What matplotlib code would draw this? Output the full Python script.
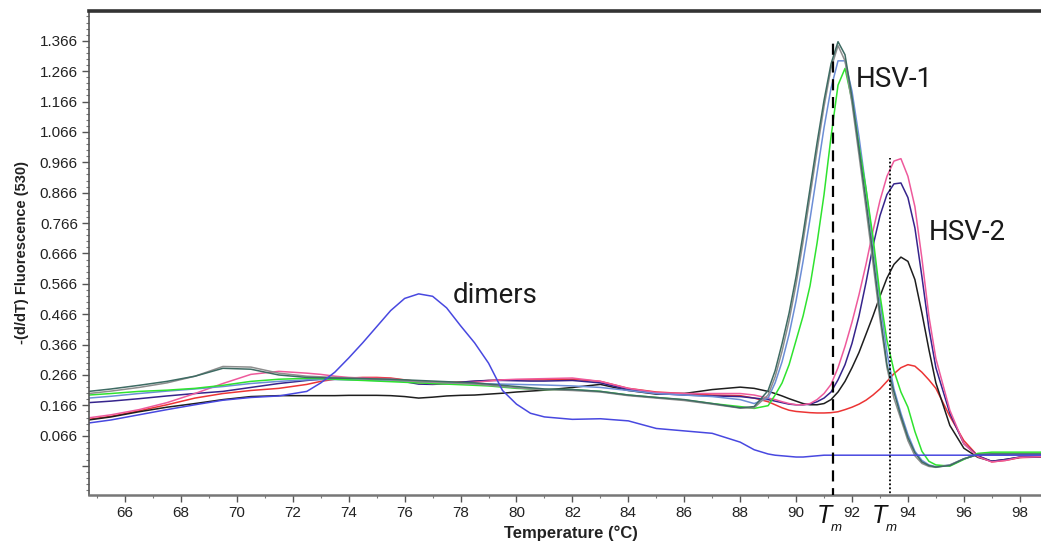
import matplotlib
matplotlib.use("Agg")
import matplotlib.pyplot as plt
from matplotlib.ticker import FixedLocator, MultipleLocator

# ---------------- data ----------------
temps = [64.7, 65.5, 66.5, 67.5, 68.5, 69.5, 70.5, 71.5,
         72.5, 73, 73.5, 74, 74.5, 75, 75.5, 76, 76.5, 77, 77.5, 78, 78.5, 79, 79.5, 80, 80.5, 81,
         82, 83, 84, 85, 86, 87, 88, 88.5,
         89, 89.25, 89.5, 89.75, 90, 90.25, 90.5, 90.75, 91, 91.25, 91.5, 91.75,
         92, 92.25, 92.5, 92.75, 93, 93.25, 93.5, 93.75, 94, 94.25, 94.5, 94.75,
         95, 95.5, 96, 96.5, 97, 97.5, 98, 98.75]

dimer_blue = [0.108, 0.118, 0.135, 0.152, 0.168, 0.183, 0.192, 0.197,
              0.212, 0.240, 0.275, 0.322, 0.372, 0.425, 0.478, 0.518, 0.533, 0.525, 0.487, 0.428, 0.372, 0.305, 0.215, 0.170, 0.140, 0.128,
              0.120, 0.122, 0.115, 0.090, 0.082, 0.074, 0.045, 0.020,
              0.006, 0.002, 0.000, -0.002, -0.004, -0.004, -0.002, 0.000, 0.002, 0.002, 0.002, 0.002,
              0.002, 0.002, 0.002, 0.002, 0.002, 0.002, 0.002, 0.002, 0.002, 0.002, 0.002, 0.002,
              0.002, 0.002, 0.002, 0.002, 0.002, 0.002, 0.002, 0.002]

hsv1_teal = [0.212, 0.220, 0.232, 0.245, 0.262, 0.288, 0.285, 0.266,
             0.258, 0.257, 0.256, 0.255, 0.254, 0.253, 0.252, 0.250, 0.248, 0.246, 0.244, 0.242, 0.240, 0.236, 0.232, 0.228, 0.224, 0.220,
             0.218, 0.212, 0.200, 0.192, 0.185, 0.172, 0.158, 0.162,
             0.215, 0.280, 0.370, 0.470, 0.590, 0.730, 0.880, 1.030, 1.170, 1.290, 1.363, 1.320,
             1.180, 1.010, 0.840, 0.660, 0.470, 0.300, 0.210, 0.130, 0.060, 0.010, -0.020, -0.032,
             -0.037, -0.032, -0.010, 0.004, 0.006, 0.006, 0.006, 0.006]

hsv1_gray = [0.205, 0.213, 0.225, 0.240, 0.262, 0.294, 0.292, 0.272,
             0.262, 0.260, 0.258, 0.256, 0.254, 0.252, 0.250, 0.247, 0.244, 0.242, 0.240, 0.238, 0.236, 0.232, 0.228, 0.224, 0.220, 0.218,
             0.215, 0.210, 0.198, 0.190, 0.182, 0.170, 0.157, 0.158,
             0.200, 0.260, 0.345, 0.445, 0.565, 0.705, 0.855, 1.005, 1.150, 1.275, 1.350, 1.300,
             1.160, 0.990, 0.815, 0.635, 0.450, 0.290, 0.190, 0.120, 0.050, 0.000, -0.025, -0.035,
             -0.038, -0.030, -0.010, 0.004, 0.005, 0.005, 0.005, 0.005]

hsv1_lightblue = [0.190, 0.196, 0.205, 0.213, 0.220, 0.228, 0.238, 0.245,
                  0.250, 0.251, 0.251, 0.250, 0.249, 0.248, 0.247, 0.245, 0.243, 0.241, 0.240, 0.239, 0.238, 0.237, 0.236, 0.235, 0.234, 0.233,
                  0.230, 0.225, 0.215, 0.205, 0.200, 0.195, 0.185, 0.172,
                  0.190, 0.240, 0.310, 0.400, 0.510, 0.640, 0.780, 0.930, 1.080, 1.210, 1.300, 1.300,
                  1.200, 1.050, 0.880, 0.700, 0.510, 0.340, 0.220, 0.140, 0.070, 0.015, -0.015, -0.030,
                  -0.036, -0.030, -0.010, 0.004, 0.005, 0.005, 0.005, 0.005]

hsv1_green = [0.200, 0.205, 0.212, 0.216, 0.222, 0.232, 0.245, 0.252,
              0.255, 0.254, 0.252, 0.250, 0.248, 0.246, 0.244, 0.242, 0.240, 0.238, 0.236, 0.234, 0.232, 0.230, 0.226, 0.222, 0.220, 0.218,
              0.218, 0.212, 0.200, 0.192, 0.184, 0.172, 0.162, 0.156,
              0.165, 0.200, 0.240, 0.300, 0.380, 0.460, 0.560, 0.700, 0.860, 1.050, 1.220, 1.275,
              1.170, 1.020, 0.880, 0.720, 0.530, 0.380, 0.280, 0.210, 0.160, 0.080, 0.015, -0.018,
              -0.030, -0.034, -0.012, 0.008, 0.012, 0.012, 0.012, 0.012]

hsv2_pink = [0.125, 0.135, 0.152, 0.175, 0.205, 0.238, 0.268, 0.278,
             0.272, 0.268, 0.262, 0.258, 0.256, 0.255, 0.254, 0.248, 0.240, 0.238, 0.238, 0.239, 0.242, 0.246, 0.250, 0.252, 0.253, 0.254,
             0.256, 0.245, 0.222, 0.208, 0.205, 0.205, 0.205, 0.200,
             0.190, 0.185, 0.178, 0.172, 0.168, 0.168, 0.172, 0.185, 0.205, 0.235, 0.290, 0.360,
             0.440, 0.530, 0.630, 0.740, 0.840, 0.920, 0.970, 0.978, 0.920, 0.820, 0.650, 0.460,
             0.320, 0.150, 0.040, -0.003, -0.020, -0.015, -0.005, -0.003]

hsv2_navy = [0.175, 0.180, 0.188, 0.197, 0.205, 0.212, 0.225, 0.238,
             0.248, 0.252, 0.255, 0.256, 0.255, 0.253, 0.250, 0.244, 0.236, 0.235, 0.237, 0.242, 0.246, 0.248, 0.248, 0.247, 0.246, 0.246,
             0.248, 0.240, 0.218, 0.205, 0.200, 0.197, 0.195, 0.190,
             0.185, 0.180, 0.175, 0.170, 0.168, 0.168, 0.170, 0.178, 0.190, 0.210, 0.250, 0.300,
             0.370, 0.460, 0.570, 0.690, 0.790, 0.860, 0.895, 0.898, 0.850, 0.750, 0.590, 0.420,
             0.290, 0.140, 0.040, 0.000, -0.018, -0.012, -0.004, -0.003]

hsv2_black = [0.118, 0.128, 0.145, 0.160, 0.172, 0.185, 0.195, 0.198,
              0.198, 0.198, 0.198, 0.199, 0.199, 0.199, 0.198, 0.195, 0.190, 0.193, 0.197, 0.199, 0.200, 0.203, 0.206, 0.210, 0.213, 0.216,
              0.225, 0.235, 0.215, 0.203, 0.205, 0.218, 0.226, 0.222,
              0.212, 0.205, 0.197, 0.188, 0.180, 0.172, 0.168, 0.168, 0.172, 0.185, 0.210, 0.245,
              0.290, 0.340, 0.400, 0.460, 0.525, 0.585, 0.630, 0.654, 0.640, 0.580, 0.470, 0.350,
              0.240, 0.100, 0.025, -0.005, -0.018, -0.012, -0.005, -0.003]

hsv2_red = [0.120, 0.130, 0.148, 0.168, 0.190, 0.205, 0.215, 0.222,
            0.235, 0.245, 0.252, 0.256, 0.258, 0.258, 0.256, 0.250, 0.244, 0.242, 0.242, 0.243, 0.245, 0.248, 0.250, 0.250, 0.250, 0.250,
            0.252, 0.245, 0.222, 0.210, 0.205, 0.200, 0.198, 0.190,
            0.178, 0.168, 0.158, 0.150, 0.146, 0.144, 0.142, 0.141, 0.141, 0.142, 0.145, 0.152,
            0.160, 0.170, 0.183, 0.200, 0.220, 0.245, 0.270, 0.290, 0.300, 0.295, 0.275, 0.250,
            0.222, 0.130, 0.050, 0.000, -0.020, -0.015, -0.006, -0.004]

tm_hsv1 = 91.31
tm_hsv2 = 93.35
tm_hsv1_top = 1.366
tm_hsv2_top = 0.98

ytick_values = [-0.034, 0.066, 0.166, 0.266, 0.366, 0.466, 0.566, 0.666, 0.766,
                0.866, 0.966, 1.066, 1.166, 1.266, 1.366]
ytick_labels = [''] + ['%.3f' % v for v in ytick_values[1:]]
xtick_values = list(range(66, 100, 2))

# ---------------- figure ----------------
W, H = 1041, 544
fig = plt.figure(figsize=(W / 100, H / 100), dpi=100)
ax = fig.add_axes([89 / W, 49 / H, 952 / W, 484 / H])

series = [
    (hsv2_red, '#ec3434'),
    (hsv2_black, '#1e1e1e'),
    (hsv2_navy, '#36248c'),
    (hsv2_pink, '#ee5a9c'),
    (hsv1_lightblue, '#6c8ed6'),
    (hsv1_green, '#2fe32f'),
    (hsv1_gray, '#8e8e8e'),
    (hsv1_teal, '#3e6b63'),
    (dimer_blue, '#4848e0'),
]
for vals, col in series:
    ax.plot(temps, vals, color=col, lw=1.1, solid_joinstyle='round')

ax.vlines(tm_hsv1, -0.2, tm_hsv1_top, colors='black', linestyles=(0, (5, 3)), lw=1.6, zorder=5)
ax.vlines(tm_hsv2, -0.2, tm_hsv2_top, colors='black', linestyles=(0, (1, 1.2)), lw=1.3, zorder=5)

ax.set_xlim(64.71, 98.76)
ax.set_ylim(-0.129, 1.464)

ax.xaxis.set_major_locator(FixedLocator(xtick_values))
ax.xaxis.set_minor_locator(MultipleLocator(1))
ax.set_xticklabels([str(v) for v in xtick_values])
ax.yaxis.set_major_locator(FixedLocator(ytick_values))
ax.set_yticklabels(ytick_labels)
ax.yaxis.set_minor_locator(FixedLocator([-0.114 + 0.02 * k for k in range(80)]))

ax.tick_params(axis='both', which='major', direction='out', length=5, width=1,
               color='#555555', labelcolor='#222222', labelsize=11, pad=3)
ax.tick_params(axis='both', which='minor', direction='out', length=2.5, width=0.8, color='#777777')
for lab in ax.get_xticklabels() + ax.get_yticklabels():
    lab.set_family('Liberation Sans')

ax.spines['right'].set_visible(False)
ax.spines['top'].set_linewidth(2.6)
ax.spines['top'].set_color('#333333')
ax.spines['bottom'].set_linewidth(1.8)
ax.spines['bottom'].set_color('#777777')
ax.spines['left'].set_linewidth(1.2)
ax.spines['left'].set_color('#555555')

# axis titles
fig.text(22 / W, 1 - 253 / H, '-(d/dT) Fluorescence (530)', rotation=90, ha='center', va='center',
         fontsize=10.5, fontweight='bold', family='Liberation Sans', color='#222222')
fig.text(571 / W, 1 - 533 / H, 'Temperature (°C)', ha='center', va='center',
         fontsize=12, fontweight='bold', family='Liberation Sans', color='#222222')

# annotations
for (tx, ty, s) in [(77.71, 0.528, 'dimers'), (92.14, 1.24, 'HSV-1'), (94.75, 0.736, 'HSV-2')]:
    ax.text(tx, ty, s, fontsize=20, family='Roboto', fontweight='normal',
            ha='left', va='center', color='#1a1a1a')

# T_m labels under the axis (T with a low subscript m)
for t_left, m_left in [(817, 831), (872, 886)]:
    fig.text(t_left / W, 1 - 523 / H, 'T', fontsize=18, style='italic', family='Liberation Sans',
             ha='left', va='baseline', color='#111111')
    fig.text(m_left / W, 1 - 531 / H, 'm', fontsize=9.5, style='italic', family='Liberation Sans',
             ha='left', va='baseline', color='#111111')

fig.savefig('out.png', dpi=100)
